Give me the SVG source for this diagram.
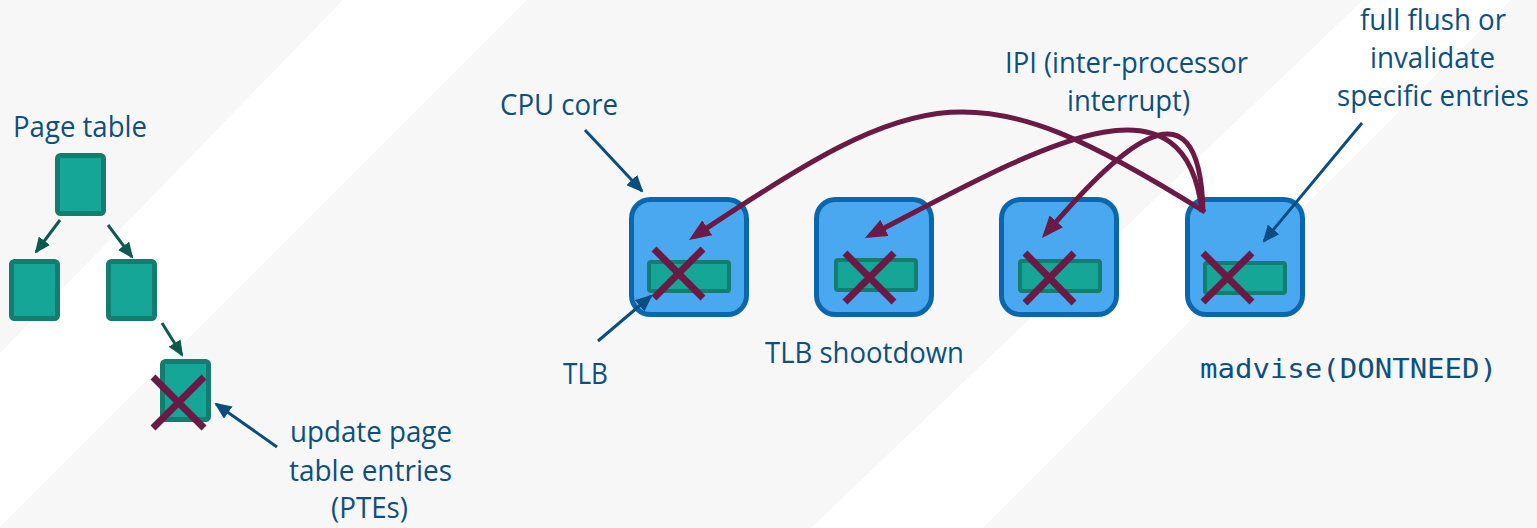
<svg xmlns="http://www.w3.org/2000/svg" width="1537" height="528" viewBox="0 0 1537 528">
<style>
.lbl{font-family:"Open Sans","Noto Sans",sans-serif;font-size:29px;fill:#0d4f80;text-anchor:middle}
.mono{font-family:"DejaVu Sans Mono","Liberation Mono",monospace;font-size:27px;fill:#0d4f80}
.pt{fill:#16a697;stroke:#137d6f;stroke-width:5}
.cpu{fill:#4aa8f0;stroke:#0b67ad;stroke-width:5}
.tlb{fill:#16a697;stroke:#137d6f;stroke-width:4}
.x{stroke:#6a1a45;stroke-width:7;fill:none}
.ipi{stroke:#6a1a45;stroke-width:5;fill:none;marker-end:url(#hm)}
.bl{stroke:#0b4d80;stroke-width:3;fill:none;marker-end:url(#hb)}
.gr{stroke:#0e5a4f;stroke-width:3;fill:none;marker-end:url(#hg)}
</style>
<defs>
<marker id="hm" markerUnits="userSpaceOnUse" viewBox="0 0 22 18" markerWidth="22" markerHeight="18" refX="16" refY="9" orient="auto"><path d="M0,0 L22,9 L0,18 z" fill="#6a1a45"/></marker>
<marker id="hb" markerUnits="userSpaceOnUse" viewBox="0 0 17 15" markerWidth="17" markerHeight="15" refX="15" refY="7.5" orient="auto"><path d="M0,0 L17,7.5 L0,15 z" fill="#0b4d80"/></marker>
<marker id="hg" markerUnits="userSpaceOnUse" viewBox="0 0 16 14" markerWidth="16" markerHeight="14" refX="14" refY="7" orient="auto"><path d="M0,0 L16,7 L0,14 z" fill="#0e5a4f"/></marker>
</defs>
<rect x="0" y="0" width="1537" height="528" fill="#f7f7f8"/>
<polygon points="343,0 527,0 0,527 0,353" fill="#ffffff"/>
<polygon points="1363,0 1511,0 983,528 811,528" fill="#ffffff"/>

<g id="page-table">
<text class="lbl" x="80" y="137" textLength="134" lengthAdjust="spacingAndGlyphs">Page table</text>
<rect class="pt" x="57.5" y="155.5" width="46" height="58" rx="3"/>
</g>
<g id="pt-left"><rect class="pt" x="11.5" y="261.5" width="46" height="57" rx="3"/></g>
<g id="pt-right"><rect class="pt" x="108.5" y="261.5" width="46" height="57" rx="3"/></g>
<g id="pt-entry">
<rect class="pt" x="162.5" y="361.5" width="46" height="58" rx="3"/>
<path class="x" d="M153,377 L204,428 M204,377 L153,428"/>
</g>
<g id="pte-label">
<text class="lbl" x="371" y="442" textLength="162" lengthAdjust="spacingAndGlyphs">update page</text>
<text class="lbl" x="370.5" y="481" textLength="163" lengthAdjust="spacingAndGlyphs">table entries</text>
<text class="lbl" x="369.5" y="518" textLength="77" lengthAdjust="spacingAndGlyphs">(PTEs)</text>
</g>

<g id="core1">
<rect class="cpu" x="631.5" y="199.5" width="115" height="115" rx="19"/>
<rect class="tlb" x="649" y="262" width="80" height="29" rx="2"/>
<path class="x" d="M654,249 L703,298 M703,249 L654,298"/>
</g>
<g id="core2">
<rect class="cpu" x="816.5" y="199.5" width="115" height="115" rx="19"/>
<rect class="tlb" x="836" y="260" width="80" height="30" rx="2"/>
<path class="x" d="M845,253 L894,302 M894,253 L845,302"/>
</g>
<g id="core3">
<rect class="cpu" x="1001.5" y="199.5" width="115" height="115" rx="19"/>
<rect class="tlb" x="1020" y="261" width="80" height="30" rx="2"/>
<path class="x" d="M1025,253 L1074,303 M1074,253 L1025,303"/>
</g>
<g id="core4">
<rect class="cpu" x="1187.5" y="199.5" width="115" height="115" rx="19"/>
<rect class="tlb" x="1205" y="263" width="80" height="30" rx="2"/>
<path class="x" d="M1203,253 L1252,302 M1252,253 L1203,302"/>
</g>

<g id="labels">
<text class="lbl" x="559" y="115" textLength="118" lengthAdjust="spacingAndGlyphs">CPU core</text>
<text class="lbl" x="585.5" y="384" textLength="45" lengthAdjust="spacingAndGlyphs">TLB</text>
<text class="lbl" x="864.5" y="363" textLength="199" lengthAdjust="spacingAndGlyphs">TLB shootdown</text>
<text class="lbl" x="1126.5" y="73" textLength="243" lengthAdjust="spacingAndGlyphs">IPI (inter-processor</text>
<text class="lbl" x="1128.5" y="111" textLength="123" lengthAdjust="spacingAndGlyphs">interrupt)</text>
<text class="lbl" x="1433" y="30" textLength="146" lengthAdjust="spacingAndGlyphs">full flush or</text>
<text class="lbl" x="1432.5" y="68" textLength="125" lengthAdjust="spacingAndGlyphs">invalidate</text>
<text class="lbl" x="1433" y="106" textLength="192" lengthAdjust="spacingAndGlyphs">specific entries</text>
<text class="mono" x="1200" y="378" textLength="297" lengthAdjust="spacingAndGlyphs">madvise(DONTNEED)</text>
</g>

<g id="connectors">
<path class="gr" d="M60,220 L36,252"/>
<path class="gr" d="M108,225 L132,257"/>
<path class="gr" d="M162,323 L182,355"/>
<path class="bl" d="M277,447 L216,404"/>
<path class="bl" d="M585,130 L642,191"/>
<path class="bl" d="M598,341 L651,296"/>
<path class="bl" d="M1362,123 L1264,241"/>
<path class="ipi" d="M1205,212 C975,68 925,82 694,236.7"/>
<path class="ipi" d="M1202,212 C1185,60 1035,150 870.3,235.2"/>
<path class="ipi" d="M1203,212 C1200,65 1112,157 1045.9,233.5"/>
</g>
</svg>
